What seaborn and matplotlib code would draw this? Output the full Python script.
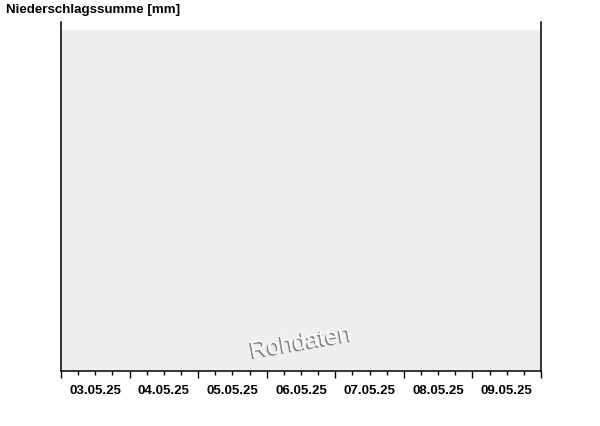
import numpy as np
import pandas as pd
import matplotlib
matplotlib.use("Agg")
import matplotlib.pyplot as plt
import matplotlib.dates as mdates
import matplotlib.patheffects as pe
from matplotlib.ticker import FuncFormatter, NullFormatter
import seaborn as sns

# data: 7 days, no precipitation values available (Rohdaten)
days = ["2025-05-03", "2025-05-04", "2025-05-05", "2025-05-06",
        "2025-05-07", "2025-05-08", "2025-05-09"]
tick_labels = ["03.05.25", "04.05.25", "05.05.25", "06.05.25",
               "07.05.25", "08.05.25", "09.05.25"]
precip_mm = [np.nan, np.nan, np.nan, np.nan, np.nan, np.nan, np.nan]
title = "Niederschlagssumme [mm]"
watermark = "Rohdaten"

sns.set_theme(style="white")
plt.rcParams["font.family"] = ["Liberation Sans", "DejaVu Sans"]

df = pd.DataFrame({"time": pd.to_datetime(days) + pd.Timedelta(hours=12),
                   "precip": precip_mm})

fig = plt.figure(figsize=(6, 4.26), dpi=100)
ax = fig.add_axes([61 / 600, 55 / 426, 480 / 600, 349 / 426])
ax.set_facecolor("white")
ax.add_patch(plt.Rectangle((0, 0), 1, 0.977, transform=ax.transAxes,
                           facecolor="#eeeeee", edgecolor="none", zorder=0))

sns.lineplot(data=df, x="time", y="precip", ax=ax, color="#1f4e9e")

t0 = pd.Timestamp(days[0])
t1 = pd.Timestamp(days[-1]) + pd.Timedelta(days=1)
ax.set_xlim(t0, t1)
ax.set_ylim(0, 1)
ax.set_yticks([])
ax.set_xlabel("")
ax.set_ylabel("")

ax.xaxis.set_major_locator(mdates.DayLocator())
ax.xaxis.set_major_formatter(NullFormatter())
ax.xaxis.set_minor_locator(mdates.HourLocator(byhour=[6, 12, 18]))


def fmt(x, pos):
    d = mdates.num2date(x)
    if d.hour == 12:
        i = (d.date() - t0.date()).days
        if 0 <= i < len(tick_labels):
            return tick_labels[i]
    return ""


ax.xaxis.set_minor_formatter(FuncFormatter(fmt))
ax.tick_params(axis="x", which="major", length=5, width=1, color="black",
               direction="out", bottom=True)
ax.tick_params(axis="x", which="minor", length=3, width=1, color="black",
               direction="out", bottom=True, pad=7,
               labelsize=9.5, labelcolor="black")
for lab in ax.xaxis.get_minorticklabels():
    lab.set_fontweight("bold")

for s in ["left", "right", "bottom"]:
    ax.spines[s].set_visible(True)
    ax.spines[s].set_color("black")
    ax.spines[s].set_linewidth(1.1)
ax.spines["top"].set_visible(False)

fig.text(6 / 600, 1 - 10.5 / 426, title, ha="left", va="center",
         fontsize=9.6, fontweight="bold", color="black")

ax.text(0.5, 0.08, watermark, transform=ax.transAxes, ha="center",
        va="center", rotation=10, fontsize=17, color="#f7f7f7",
        path_effects=[pe.withSimplePatchShadow(offset=(-1, -1.2),
                                               shadow_rgbFace="#777777",
                                               alpha=0.9),
                      pe.Normal()])

fig.savefig("out.png", dpi=100)
